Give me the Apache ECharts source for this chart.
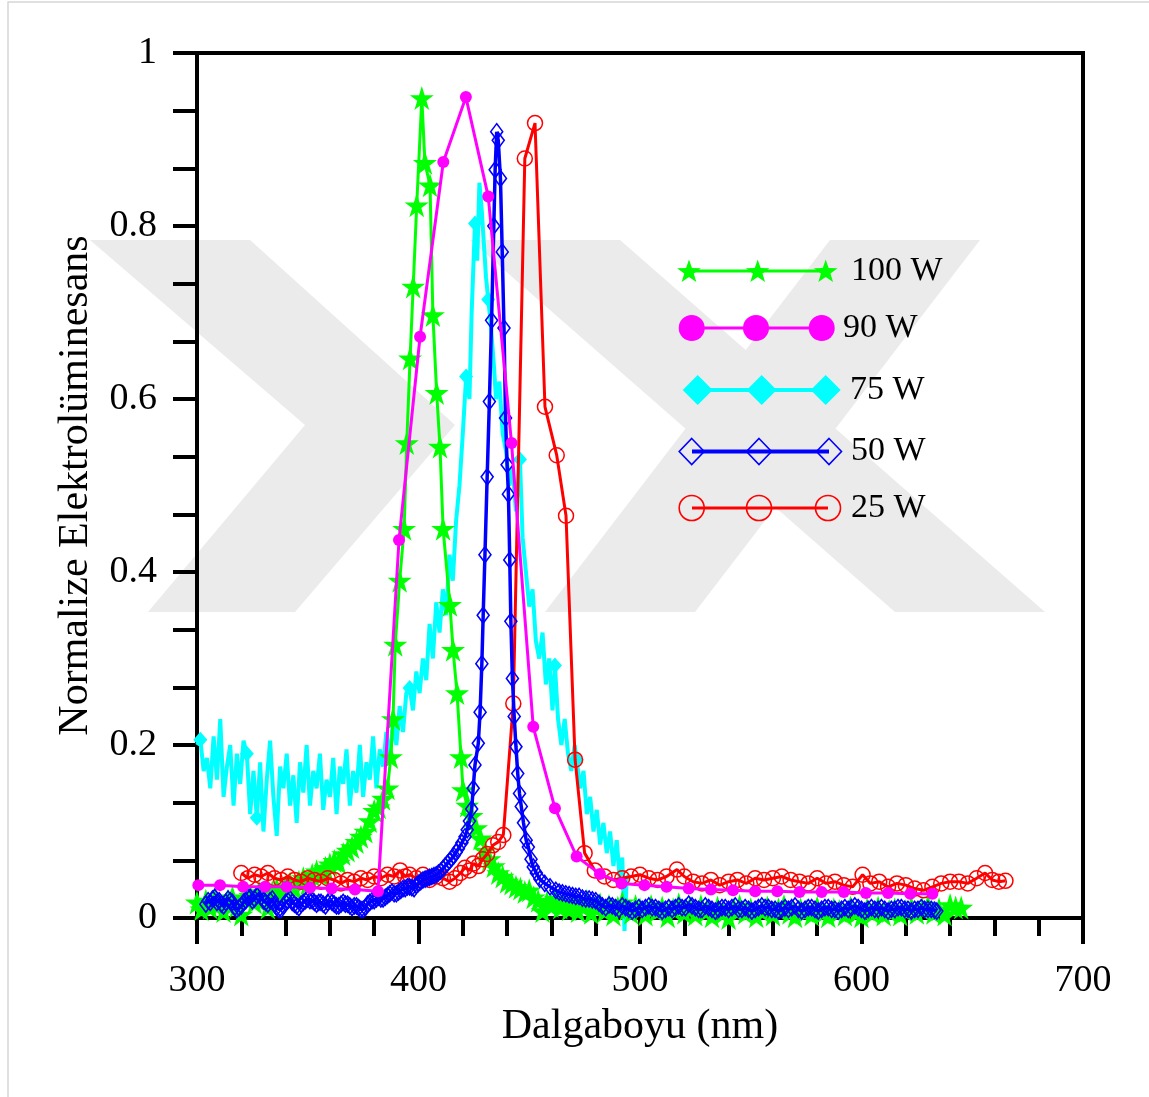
<!DOCTYPE html>
<html>
<head>
<meta charset="utf-8">
<script src="https://cdn.jsdelivr.net/npm/echarts@6/dist/echarts.min.js"></script>
<style>
  html, body { margin: 0; padding: 0; background: #fff; }
  #chart { width: 1149px; height: 1097px; }
</style>
</head>
<body>
<div id="chart"></div>
<script>
// Electroluminescence spectra at several plasma powers (normalised)

// 100 W
const wl100 = [300,302,304,306,308,310,312,314,316,318,320,322,324,326,328,330,332,334,336,338,340,342,344,346,348,350,352,354,356,358,360,362,364,366,368,370,372,374,376,378,380,382,384,386,387.5,388.5,389.5,391.5,393.5,394.7,396.2,397.6,399.2,401.5,402.9,405.2,406.5,408.2,409.7,411.1,414.2,415.6,417.4,419.2,420.1,422,424,426,428,430,432,434,436,438,440,442,444,446,448,450,452,454,456,458,460,462,464,466,468,470,472,474,476,478,480,482,484,486,488,490,492,494,496,498,500,502.5,505,507.5,510,512.5,515,517.5,520,522.5,525,527.5,530,532.5,535,537.5,540,542.5,545,547.5,550,552.5,555,557.5,560,562.5,565,567.5,570,572.5,575,577.5,580,582.5,585,587.5,590,592.5,595,597.5,600,602.5,605,607.5,610,612.5,615,617.5,620,622.5,625,627.5,630,632.5,635,637.5,640,642.5,645];
const el100 = [0.018,0.010,0.020,0.012,0.022,0.016,0.008,0.020,0.024,0.014,0.004,0.022,0.026,0.018,0.030,0.024,0.012,0.030,0.034,0.028,0.036,0.040,0.034,0.042,0.046,0.040,0.050,0.054,0.050,0.058,0.062,0.066,0.064,0.074,0.078,0.082,0.088,0.094,0.100,0.112,0.124,0.128,0.138,0.150,0.186,0.230,0.316,0.390,0.450,0.549,0.647,0.730,0.824,0.948,0.873,0.847,0.697,0.607,0.545,0.450,0.362,0.310,0.260,0.186,0.148,0.130,0.118,0.104,0.092,0.078,0.068,0.060,0.052,0.048,0.042,0.040,0.036,0.034,0.030,0.032,0.024,0.020,0.008,0.018,0.014,0.022,0.012,0.016,0.010,0.018,0.008,0.014,0.020,0.006,0.012,0.016,0.008,0.014,0.004,0.012,0.018,0.010,0.006,0.014,0.010,0.004,0.014,0.008,0.012,0.002,0.010,0.016,0.006,0.012,0.004,0.014,0.008,0.002,0.012,0.006,0.000,0.010,0.014,0.006,0.010,0.002,0.008,0.012,0.004,0.010,0.014,0.006,0.002,0.010,0.008,0.004,0.012,0.006,0.002,0.010,0.008,0.004,0.012,0.006,0.002,0.010,0.006,0.012,0.004,0.008,0.010,0.004,0.008,0.012,0.006,0.010,0.014,0.006,0.010,0.004,0.015,0.012,0.012];

// 90 W
const wl90 = [300.6,310.4,320.8,330.7,340.5,351,360.8,371.3,381.7,391.2,400.7,411.2,421.4,431.5,442,451.8,461.6,471.4,481.9,491.7,502,512,522,532,542,552,562,572,582,592,602,612,622,632];
const el90 = [0.038,0.038,0.036,0.036,0.036,0.035,0.034,0.033,0.031,0.437,0.672,0.874,0.949,0.834,0.549,0.221,0.127,0.071,0.051,0.040,0.038,0.036,0.034,0.033,0.032,0.031,0.031,0.030,0.030,0.030,0.029,0.029,0.028,0.028];

// 75 W
const wl75 = [300,301.5,303,304.5,306,307.5,309,310.5,312,313.5,315,316.5,318,319.5,321,322.5,324,325.5,327,328.5,330,331.5,333,334.5,336,337.5,339,340.5,342,343.5,345,346.5,348,349.5,351,352.5,354,355.5,357,358.5,360,361.5,363,364.5,366,367.5,369,370.5,372,373.5,375,376.5,378,379.5,381,382.5,384,385.5,387,388.5,390,391.5,393,394.5,396,397.5,399,400.5,402,403.5,405,406.5,408,409.5,411,412.5,414,415.5,417,418.5,420,421.5,423,424,425.5,426.5,427.5,428.5,429.5,430.5,431.5,432.5,434,435,436.5,438,439.5,441,442.5,444,445.8,447,448.5,450,451.5,453,454.5,456,457.5,459,460.5,461.6,463,464.5,466,467.5,469,470.5,471.4,473,474.5,476,477.5,479,480.5,482,483.5,485,486.5,488,489.5,491,492,493,494,495];
const el75 = [0.200,0.206,0.170,0.185,0.150,0.210,0.160,0.230,0.140,0.175,0.200,0.130,0.190,0.155,0.205,0.190,0.120,0.170,0.116,0.180,0.100,0.160,0.205,0.140,0.095,0.175,0.150,0.190,0.130,0.165,0.110,0.180,0.145,0.200,0.130,0.170,0.150,0.190,0.125,0.160,0.140,0.185,0.120,0.175,0.155,0.195,0.130,0.170,0.145,0.200,0.140,0.180,0.160,0.210,0.150,0.195,0.175,0.215,0.180,0.230,0.200,0.245,0.215,0.260,0.266,0.240,0.285,0.260,0.300,0.275,0.340,0.300,0.365,0.330,0.380,0.350,0.420,0.390,0.460,0.500,0.560,0.626,0.600,0.700,0.803,0.760,0.850,0.820,0.780,0.740,0.715,0.690,0.640,0.600,0.620,0.560,0.540,0.500,0.520,0.470,0.530,0.440,0.400,0.360,0.380,0.320,0.300,0.330,0.270,0.300,0.240,0.292,0.230,0.200,0.230,0.190,0.170,0.200,0.183,0.150,0.170,0.120,0.140,0.100,0.125,0.085,0.110,0.075,0.100,0.060,0.090,0.040,0.070,-0.015,0.045,0.050];
// wavelengths at which the 75 W trace carries a diamond marker
const mark75 = [301.5,322.5,327,396,421.5,425.5,431.5,445.8,461.6,471.4];

// 50 W
const wl50 = [304,305,306,307,308,309,310,311,312,313,314,315,316,317,318,319,320,321,322,323,324,325,326,327,328,329,330,331,332,333,334,335,336,337,338,339,340,341,342,343,344,345,346,347,348,349,350,351,352,353,354,355,356,357,358,359,360,361,362,363,364,365,366,367,368,369,370,371,372,373,374,375,376,377,378,379,380,381,382,383,384,385,386,387,388,389,390,391,392,393,394,395,396,397,398,399,400,401,402,403,404,405,406,407,408,409,410,411,412,413,414,415,416,417,418,419.6,421,422,423,424,424.7,425.5,427,427.8,428.6,429.2,430,431,432,433,434,434.6,435.3,436,437,437.8,438.6,439.3,440,440.6,441.2,441.7,442.4,443.2,444,444.8,445.6,446.4,447.4,448.6,449.6,450.8,451.8,453.2,454.8,457,459.4,462,463.5,465,466.5,468,469.5,471,472.5,474,475.5,477,478.5,480,481.5,483,484.5,486,487.5,489,490.5,492,493.5,495,496.5,498,499.5,501,502.5,504,505.5,507,508.5,510,511.5,513,514.5,516,517.5,519,520.5,522,523.5,525,526.5,528,529.5,531,532.5,534,535.5,537,538.5,540,541.5,543,544.5,546,547.5,549,550.5,552,553.5,555,556.5,558,559.5,561,562.5,564,565.5,567,568.5,570,571.5,573,574.5,576,577.5,579,580.5,582,583.5,585,586.5,588,589.5,591,592.5,594,595.5,597,598.5,600,601.5,603,604.5,606,607.5,609,610.5,612,613.5,615,616.5,618,619.5,621,622.5,624,625.5,627,628.5,630,631.5,633,634];
const el50 = [0.016,0.020,0.018,0.022,0.024,0.018,0.020,0.016,0.014,0.018,0.022,0.020,0.018,0.012,0.010,0.012,0.014,0.018,0.020,0.024,0.024,0.020,0.022,0.026,0.028,0.024,0.020,0.018,0.016,0.020,0.022,0.016,0.012,0.010,0.010,0.014,0.018,0.020,0.022,0.018,0.016,0.014,0.012,0.016,0.018,0.020,0.022,0.020,0.020,0.018,0.016,0.018,0.018,0.016,0.014,0.018,0.020,0.018,0.016,0.014,0.014,0.016,0.018,0.016,0.016,0.014,0.012,0.014,0.014,0.012,0.010,0.010,0.012,0.016,0.018,0.020,0.020,0.022,0.024,0.022,0.022,0.024,0.026,0.028,0.030,0.028,0.028,0.030,0.032,0.034,0.034,0.036,0.036,0.035,0.034,0.038,0.040,0.042,0.044,0.045,0.046,0.047,0.048,0.049,0.050,0.052,0.054,0.057,0.060,0.063,0.066,0.069,0.072,0.076,0.080,0.087,0.094,0.102,0.112,0.126,0.150,0.177,0.202,0.238,0.294,0.350,0.420,0.510,0.597,0.691,0.800,0.865,0.909,0.899,0.855,0.770,0.682,0.578,0.524,0.490,0.414,0.343,0.277,0.233,0.198,0.167,0.144,0.129,0.110,0.090,0.082,0.068,0.059,0.052,0.045,0.040,0.036,0.032,0.030,0.029,0.028,0.027,0.026,0.025,0.025,0.023,0.022,0.022,0.021,0.020,0.017,0.014,0.012,0.015,0.014,0.012,0.010,0.014,0.012,0.010,0.008,0.010,0.012,0.010,0.012,0.014,0.012,0.012,0.010,0.008,0.010,0.012,0.010,0.012,0.014,0.012,0.012,0.016,0.014,0.012,0.010,0.010,0.014,0.012,0.010,0.008,0.010,0.012,0.012,0.010,0.012,0.014,0.010,0.010,0.012,0.010,0.008,0.010,0.012,0.014,0.012,0.012,0.010,0.010,0.008,0.010,0.012,0.010,0.012,0.014,0.010,0.008,0.010,0.012,0.012,0.010,0.008,0.010,0.012,0.012,0.010,0.010,0.008,0.010,0.012,0.010,0.012,0.014,0.012,0.010,0.008,0.010,0.012,0.010,0.010,0.012,0.010,0.008,0.010,0.010,0.012,0.012,0.010,0.010,0.008,0.010,0.010,0.012,0.010,0.010,0.010,0.009,0.008];

// 25 W
const wl25 = [320,323,326,329,332,335,338,341,344,347,350,353,356,359,362,365,368,371,374,377,380,383,386,389,391.7,394,396,399,402,405,408,411,414,416.5,419,421,423,424.8,427,429,431,433.6,436,438.3,442.8,448,452.6,457.1,462.4,466.6,470.7,475,479.6,484,488,492,496,500,504,508,512,516.7,520,524,528,532,536,540,544,548,552,556,560,564,568,572,576,580,584,588,592,596,600.5,604,608,612,616,620,624,628,632,636,640,644,648,652,655.8,659,662,665];
const el25 = [0.052,0.046,0.050,0.048,0.052,0.046,0.044,0.048,0.044,0.042,0.046,0.044,0.042,0.046,0.044,0.040,0.044,0.042,0.046,0.044,0.048,0.046,0.050,0.048,0.055,0.048,0.050,0.046,0.050,0.044,0.048,0.046,0.042,0.046,0.052,0.058,0.055,0.063,0.060,0.068,0.074,0.084,0.088,0.096,0.248,0.878,0.919,0.591,0.535,0.465,0.183,0.075,0.055,0.048,0.044,0.046,0.048,0.050,0.046,0.044,0.048,0.056,0.048,0.042,0.040,0.044,0.038,0.042,0.044,0.040,0.046,0.044,0.046,0.048,0.044,0.042,0.040,0.046,0.040,0.042,0.038,0.036,0.050,0.040,0.042,0.036,0.040,0.038,0.034,0.032,0.036,0.040,0.042,0.042,0.040,0.046,0.052,0.044,0.042,0.043];

// axis ticks
const xTicks = [300, 400, 500, 600, 700];
const yTicks = [0, 0.2, 0.4, 0.6, 0.8, 1];

const legendNames = ['100 W', '90 W', '75 W', '50 W', '25 W'];
const colors = ['#00ff00', '#ff00ff', '#00ffff', '#0000ff', '#ff0000'];

const FONT = '"Liberation Serif", "Times New Roman", serif';
const STAR = 'path://M50,0 L61.2,34.5 L97.6,34.5 L68.2,55.9 L79.4,90.5 L50,69.1 L20.6,90.5 L31.8,55.9 L2.4,34.5 L38.8,34.5 Z';

const zip = (xs, ys) => xs.map((x, i) => [x, ys[i]]);

const chart = echarts.init(document.getElementById('chart'), null, { renderer: 'canvas' });

// ---- decorative background logo and hand-built legend ----
function starPoints(cx, cy, R) {
  const pts = [];
  const r = R * 0.4;
  for (let k = 0; k < 10; k++) {
    const a = -Math.PI / 2 + k * Math.PI / 5;
    const rr = k % 2 === 0 ? R : r;
    pts.push([cx + rr * Math.cos(a), cy + rr * Math.sin(a)]);
  }
  return pts;
}
function diamondPoints(cx, cy, hw, hh) {
  return [[cx, cy - hh], [cx + hw, cy], [cx, cy + hh], [cx - hw, cy]];
}

const WM = '#ebebeb';
const graphics = [
  // thin frame
  { type: 'rect', shape: { x: 8, y: 2, width: 1200, height: 1200 }, style: { fill: null, stroke: '#d6d6d6', lineWidth: 1.5 }, z: -200, silent: true },
  // background logo
  { type: 'polygon', shape: { points: [[90,240],[250,240],[455,425],[295,612],[148,612],[305,425]] }, style: { fill: WM }, z: -100, silent: true },
  { type: 'polygon', shape: { points: [[470,240],[620,240],[1045,612],[895,612]] }, style: { fill: WM }, z: -100, silent: true },
  { type: 'polygon', shape: { points: [[830,240],[980,240],[695,612],[545,612]] }, style: { fill: WM }, z: -100, silent: true }
];

const legendRows = [
  { y: 271, x0: 688, x1: 826, marks: [689, 757.7, 825.7], tx: 851, lw: 3 },
  { y: 328, x0: 692, x1: 822, marks: [691.7, 756, 821.7], tx: 843, lw: 3 },
  { y: 390, x0: 698, x1: 826, marks: [697.7, 761.7, 825.7], tx: 850, lw: 4 },
  { y: 451.5, x0: 692, x1: 829, marks: [691.7, 759, 829], tx: 851, lw: 4 },
  { y: 508, x0: 692, x1: 828, marks: [691.7, 759, 828], tx: 851, lw: 3 }
];
legendRows.forEach((row, i) => {
  const c = colors[i];
  graphics.push({ type: 'line', shape: { x1: row.x0, y1: row.y, x2: row.x1, y2: row.y }, style: { stroke: c, lineWidth: row.lw }, z: 100 });
  row.marks.forEach(mx => {
    if (i === 0) {
      graphics.push({ type: 'polygon', shape: { points: starPoints(mx, row.y + 1, 12.5) }, style: { fill: c }, z: 101 });
    } else if (i === 1) {
      graphics.push({ type: 'circle', shape: { cx: mx, cy: row.y, r: 13 }, style: { fill: c }, z: 101 });
    } else if (i === 2) {
      graphics.push({ type: 'polygon', shape: { points: diamondPoints(mx, row.y, 15, 15) }, style: { fill: c }, z: 101 });
    } else if (i === 3) {
      graphics.push({ type: 'polygon', shape: { points: diamondPoints(mx, row.y, 12.5, 13) }, style: { fill: null, stroke: c, lineWidth: 1.6 }, z: 101 });
    } else {
      graphics.push({ type: 'circle', shape: { cx: mx, cy: row.y, r: 12.5 }, style: { fill: null, stroke: c, lineWidth: 1.6 }, z: 101 });
    }
  });
  graphics.push({ type: 'text', x: row.tx, y: row.y, style: { text: legendNames[i], font: '34px ' + FONT, fill: '#000', textVerticalAlign: 'middle', verticalAlign: 'middle' }, z: 101 });
});

// ---- series ----
const base = {
  type: 'line',
  clip: false,
  showAllSymbol: true,
  animation: false,
  emphasis: { disabled: true }
};

const series = [
  Object.assign({}, base, {
    name: legendNames[2],
    symbol: 'none',
    data: zip(wl75, el75).map(p => mark75.includes(p[0]) ? { value: p, symbol: 'diamond', symbolSize: [14, 16] } : { value: p }),
    lineStyle: { color: colors[2], width: 4 },
    itemStyle: { color: colors[2] },
    z: 2
  }),
  Object.assign({}, base, {
    name: legendNames[0],
    data: zip(wl100, el100),
    symbol: STAR,
    symbolSize: 24,
    lineStyle: { color: colors[0], width: 3 },
    itemStyle: { color: colors[0] },
    z: 3
  }),
  Object.assign({}, base, {
    name: legendNames[4],
    data: zip(wl25, el25),
    symbol: 'circle',
    symbolSize: 15,
    lineStyle: { color: colors[4], width: 3 },
    itemStyle: { color: 'rgba(0,0,0,0)', borderColor: colors[4], borderWidth: 1.5 },
    z: 4
  }),
  Object.assign({}, base, {
    name: legendNames[3],
    data: zip(wl50, el50),
    symbol: 'diamond',
    symbolSize: [12, 16],
    lineStyle: { color: colors[3], width: 3.5 },
    itemStyle: { color: 'rgba(0,0,0,0)', borderColor: colors[3], borderWidth: 1.6 },
    z: 5
  }),
  Object.assign({}, base, {
    name: legendNames[1],
    data: zip(wl90, el90),
    symbol: 'circle',
    symbolSize: 12,
    lineStyle: { color: colors[1], width: 3 },
    itemStyle: { color: colors[1] },
    z: 6
  })
];

const option = {
  backgroundColor: '#fff',
  animation: false,
  grid: {
    left: 197, right: 66, top: 53, bottom: 179,
    show: true, borderColor: '#000', borderWidth: 4, backgroundColor: 'transparent'
  },
  xAxis: {
    type: 'value',
    min: xTicks[0], max: xTicks[xTicks.length - 1], interval: 100,
    name: 'Dalgaboyu (nm)',
    nameLocation: 'middle',
    nameGap: 88,
    nameTextStyle: { fontFamily: FONT, fontSize: 42, color: '#000' },
    axisLine: { show: true, lineStyle: { color: '#000', width: 4 } },
    axisTick: { show: true, length: 26, lineStyle: { color: '#000', width: 4 } },
    minorTick: { show: true, splitNumber: 5, length: 18, lineStyle: { color: '#000', width: 4 } },
    axisLabel: { fontFamily: FONT, fontSize: 38, color: '#000', margin: 44 },
    splitLine: { show: false }
  },
  yAxis: {
    type: 'value',
    min: yTicks[0], max: yTicks[yTicks.length - 1], interval: 0.2,
    name: 'Normalize Elektrolüminesans',
    nameLocation: 'middle',
    nameGap: 100,
    nameRotate: 90,
    nameTextStyle: { fontFamily: FONT, fontSize: 42, color: '#000' },
    axisLine: { show: true, lineStyle: { color: '#000', width: 4 } },
    axisTick: { show: true, length: 24, lineStyle: { color: '#000', width: 4 } },
    minorTick: { show: true, splitNumber: 3, length: 24, lineStyle: { color: '#000', width: 4 } },
    axisLabel: { fontFamily: FONT, fontSize: 38, color: '#000', margin: 40 },
    splitLine: { show: false }
  },
  graphic: graphics,
  series: series
};

chart.setOption(option);
</script>
</body>
</html>
